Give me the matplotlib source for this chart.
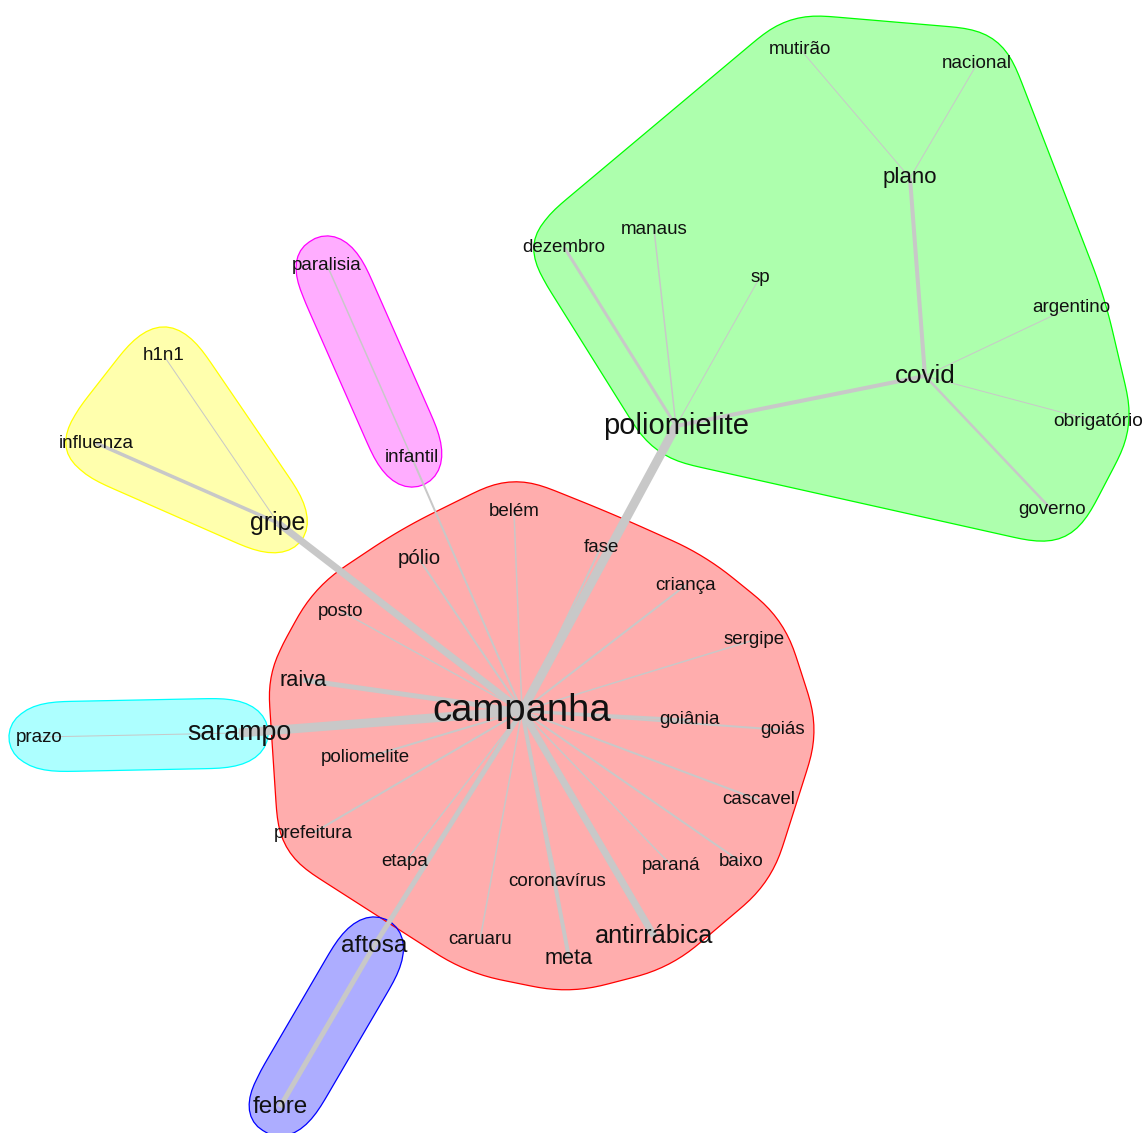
import numpy as np
import matplotlib
matplotlib.use("Agg")
import matplotlib.pyplot as plt
from matplotlib.patches import Polygon

plt.rcParams['font.family'] = ['Liberation Sans', 'DejaVu Sans']

# node layout (pixel positions)
nodes = ["campanha", "belém", "fase", "pólio", "criança", "posto", "sergipe", "raiva",
         "goiânia", "goiás", "poliomelite", "cascavel", "prefeitura", "etapa", "baixo",
         "paraná", "coronavírus", "caruaru", "meta", "antirrábica",
         "gripe", "influenza", "h1n1",
         "poliomielite", "dezembro", "manaus", "sp", "plano", "mutirão", "nacional",
         "covid", "argentino", "obrigatório", "governo",
         "sarampo", "prazo",
         "aftosa", "febre",
         "paralisia", "infantil"]
node_x = [522, 514, 601, 419, 686, 341, 754, 303,
          690, 783, 365, 759, 313, 405, 741,
          671, 557, 480, 569, 654,
          278, 96, 164,
          676, 564, 654, 760, 910, 800, 977,
          925, 1071, 1098, 1052,
          239, 39,
          374, 280,
          327, 412]
node_y = [711, 512, 547, 559, 585, 611, 640, 680,
          720, 730, 758, 800, 833, 862, 862,
          865, 882, 940, 958, 936,
          523, 443, 356,
          426, 247, 229, 277, 178, 49, 64,
          376, 307, 422, 510,
          733, 737,
          946, 1107,
          265, 458]
label_size = [27.5, 13.5, 13.5, 14.8, 13.5, 13.5, 13.5, 15.7,
              13.5, 13.5, 13.5, 13.5, 13.5, 13.5, 13.5,
              13.5, 13.5, 13.5, 15.7, 18.2,
              18, 13.5, 13.5,
              21, 13.5, 13.5, 13.5, 16, 13.5, 13.5,
              18.7, 13.5, 13.8, 13.5,
              19.3, 13.5,
              17.6, 17.5,
              13.5, 13.5]

groups = [
    ["campanha", "belém", "fase", "pólio", "criança", "posto", "sergipe", "raiva",
     "goiânia", "goiás", "poliomelite", "cascavel", "prefeitura", "etapa", "baixo",
     "paraná", "coronavírus", "caruaru", "meta", "antirrábica"],
    ["gripe", "influenza", "h1n1"],
    ["poliomielite", "dezembro", "manaus", "sp", "plano", "mutirão", "nacional",
     "covid", "argentino", "obrigatório", "governo"],
    ["sarampo", "prazo"],
    ["aftosa", "febre"],
    ["paralisia", "infantil"],
]
group_colors = ["#FF0000", "#FFFF00", "#00FF00", "#00FFFF", "#0000FF", "#FF00FF"]

edge_from = ["campanha"] * 24 + ["poliomielite", "covid", "plano", "plano", "poliomielite",
             "poliomielite", "poliomielite", "covid", "covid", "covid",
             "gripe", "gripe", "paralisia", "sarampo", "aftosa"]
edge_to = ["poliomielite", "sarampo", "gripe", "antirrábica", "raiva", "aftosa", "meta",
           "goiânia", "goiás", "belém", "fase", "pólio", "criança", "posto", "sergipe",
           "poliomelite", "cascavel", "prefeitura", "etapa", "baixo", "paraná",
           "coronavírus", "caruaru", "infantil",
           "covid", "plano", "mutirão", "nacional", "dezembro",
           "manaus", "sp", "argentino", "obrigatório", "governo",
           "influenza", "h1n1", "infantil", "prazo", "febre"]
edge_width = [9, 9, 7, 7, 5, 5, 4,
              3, 2, 1.5, 2, 2, 2, 1.5, 1.5,
              2, 2, 2, 1.5, 2, 1.5,
              1.5, 1.5, 2,
              4, 4, 1, 1, 3,
              1.5, 1, 1, 1, 2.5,
              3.5, 1, 1.5, 1, 5]

pos = {n: (x, y) for n, x, y in zip(nodes, node_x, node_y)}


def hull(points):
    pts = sorted(set(points))
    if len(pts) < 3:
        return pts

    def cross(o, a, b):
        return (a[0] - o[0]) * (b[1] - o[1]) - (a[1] - o[1]) * (b[0] - o[0])
    lower, upper = [], []
    for p in pts:
        while len(lower) >= 2 and cross(lower[-2], lower[-1], p) <= 0:
            lower.pop()
        lower.append(p)
    for p in reversed(pts):
        while len(upper) >= 2 and cross(upper[-2], upper[-1], p) <= 0:
            upper.pop()
        upper.append(p)
    return lower[:-1] + upper[:-1]


def resample(poly, step=8):
    # even spacing along the outline
    P = np.asarray(poly, dtype=float)
    P = np.vstack([P, P[:1]])
    seg = np.hypot(*np.diff(P, axis=0).T)
    s = np.concatenate([[0], np.cumsum(seg)])
    u = np.arange(0, s[-1], step)
    return np.column_stack([np.interp(u, s, P[:, 0]), np.interp(u, s, P[:, 1])])


def smooth(P, win=9):
    # circular moving average, softens the hull corners
    k = np.ones(win) / win
    ext = np.vstack([P[-win:], P, P[:win]])
    x = np.convolve(ext[:, 0], k, mode="same")[win:-win]
    y = np.convolve(ext[:, 1], k, mode="same")[win:-win]
    return np.column_stack([x, y])


def group_shape(names, r=35):
    # circle round every node, convex hull, then smoothed
    ang = np.linspace(0, 2 * np.pi, 36, endpoint=False)
    pts = []
    for n in names:
        x, y = pos[n]
        pts += [(round(x + r * np.cos(a), 3), round(y + r * np.sin(a), 3)) for a in ang]
    return smooth(resample(hull(pts)))


fig = plt.figure(figsize=(11.44, 11.33), dpi=100)
ax = fig.add_axes([0, 0, 1, 1])
ax.set_xlim(0, 1144)
ax.set_ylim(1133, 0)
ax.axis("off")

for members, col in zip(groups, group_colors):
    poly = group_shape(members)
    ax.add_patch(Polygon(poly, closed=True, facecolor=col, alpha=0.32,
                         edgecolor="none", zorder=1))
    ax.add_patch(Polygon(poly, closed=True, facecolor="none", edgecolor=col,
                         linewidth=0.9, zorder=1.1))

for a, b, w in zip(edge_from, edge_to, edge_width):
    (x0, y0), (x1, y1) = pos[a], pos[b]
    ax.plot([x0, x1], [y0, y1], color="#C8C8C8", linewidth=w * 0.72,
            solid_capstyle="butt", zorder=2)

for n, x, y, s in zip(nodes, node_x, node_y, label_size):
    ax.text(x, y, n, fontsize=s, color="#111111", ha="center", va="center", zorder=3)

fig.savefig("out.png", dpi=100)
